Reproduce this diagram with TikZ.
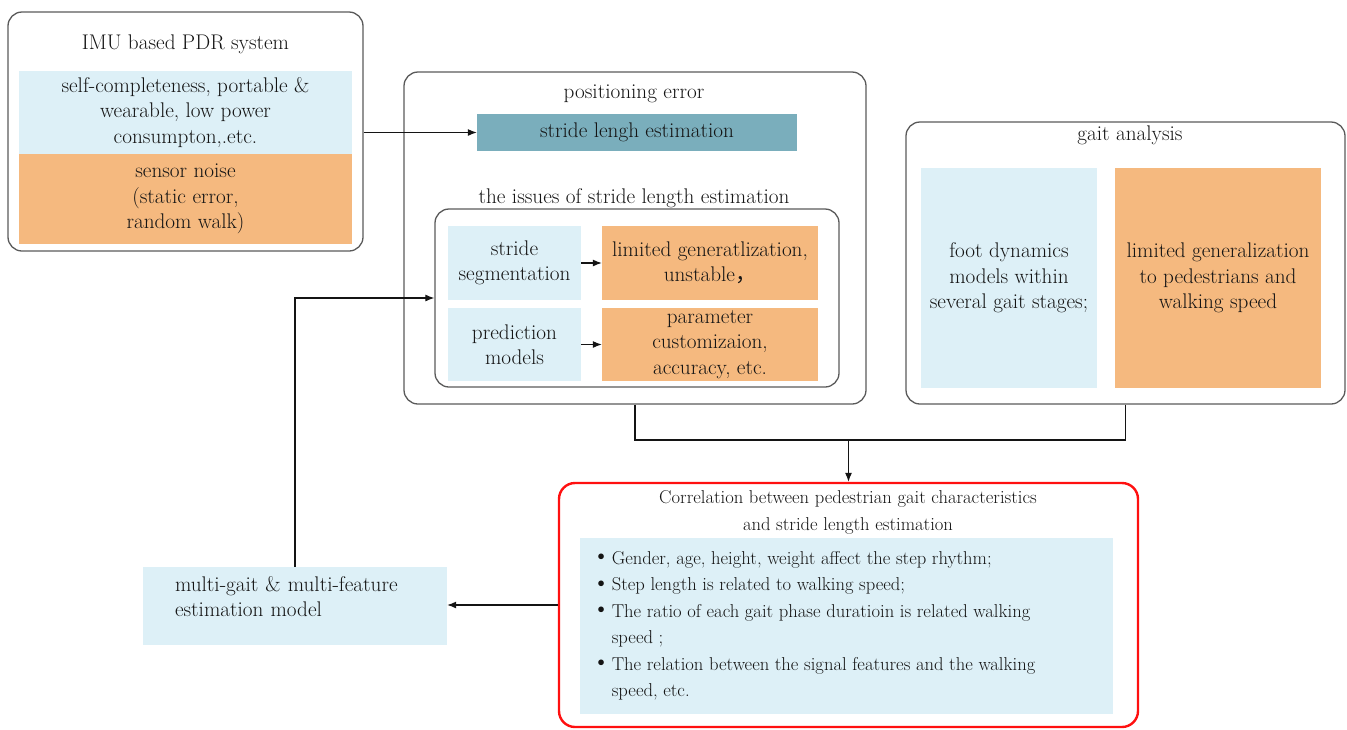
\documentclass[tikz,border=0pt]{standalone}
\usepackage{fontspec}
\newfontfamily\cjk{Noto Sans CJK SC}
\usetikzlibrary{arrows.meta}
\definecolor{lblue}{HTML}{DDF0F7}
\definecolor{lorange}{HTML}{F5B97F}
\definecolor{tealbox}{HTML}{7AAEBC}
\definecolor{frame}{HTML}{5A5A5A}
\definecolor{txt}{HTML}{141414}
\definecolor{redframe}{HTML}{FF1010}
\newcommand{\bigbul}{\raisebox{0.05ex}{\scalebox{1.35}{\textbullet}}\hspace{1.5pt}}
\tikzset{
  frm/.style={draw=frame, line width=1.3pt, rounded corners=14pt, inner sep=0pt},
  bx/.style={fill=lblue, inner sep=0pt, align=center},
  ox/.style={fill=lorange, inner sep=0pt, align=center},
  ttl/.style={inner sep=0pt, align=center},
  arr/.style={-{Latex[length=9pt,width=7pt]}, draw=txt, line width=1.1pt},
  ln/.style={draw=txt, line width=1.1pt},
}
\begin{document}
\begin{tikzpicture}[x=1pt,y=-1pt,font=\fontsize{21.2}{25.5}\selectfont,text=txt]
\useasboundingbox (0,0) rectangle (1347,729);
% frames
\node[frm, minimum width=355pt, minimum height=239pt] (imu) at (185.5,131.5) {};
\node[frm, minimum width=462pt, minimum height=332pt] (pos) at (635,238) {};
\node[frm, minimum width=404pt, minimum height=178pt] (iss) at (637,298) {};
\node[frm, minimum width=439pt, minimum height=282pt] (gait) at (1125.5,263) {};
\node[draw=redframe, line width=2.4pt, rounded corners=16pt, inner sep=0pt, minimum width=579pt, minimum height=244pt] (cor) at (848.5,605) {};
% box 1
\node[ttl] (t1) at (185.5,44) {IMU based PDR system};
\node[bx, minimum width=333pt, minimum height=83pt] (adv) at (185.5,112.5) {self-completeness, portable \&\\wearable, low power\\consumpton,.etc.};
\node[ox, minimum width=333pt, minimum height=90pt] (noise) at (185.5,199) {sensor noise\\(static error,\\random walk)};
% box 2
\node[ttl] (t2) at (634,94) {positioning error};
\node[fill=tealbox, inner sep=0pt, minimum width=320pt, minimum height=37pt] (sle) at (637,132.5) {stride lengh estimation};
\node[ttl] (t3) at (634,198) {the issues of stride length estimation};
\node[bx, minimum width=133pt, minimum height=74pt] (ss) at (514.5,263) {stride\\segmentation};
\node[ox, minimum width=216pt, minimum height=74pt] (lg) at (710,263) {limited generatlization,\\unstable{\cjk ，}};
\node[bx, minimum width=133pt, minimum height=73pt] (pm) at (514.5,344.5) {prediction\\models};
\node[ox, minimum width=216pt, minimum height=73pt] (pc) at (710,344.5) {parameter\\customizaion,\\accuracy, etc.};
% box 3
\node[ttl] (t4) at (1130,135) {gait analysis};
\node[bx, minimum width=176pt, minimum height=220pt] (fd) at (1009,278) {foot dynamics\\models within\\several gait stages;};
\node[ox, minimum width=206pt, minimum height=220pt] (lgp) at (1218,278) {limited generalization\\to pedestrians and\\walking speed};
% red box
\node[ttl, font=\fontsize{18.6}{27}\selectfont] (t5) at (848,512) {Correlation between pedestrian gait characteristics\\and stride length estimation};
\node[fill=lblue, inner sep=0pt, minimum width=533pt, minimum height=176pt] (blist) at (846.5,626) {};
\node[inner sep=0pt, align=left, anchor=north west, font=\fontsize{18.6}{26.5}\selectfont] (items) at (592,551) {%
\bigbul Gender, age, height, weight affect the step rhythm;\\
\bigbul Step length is related to walking speed;\\
\bigbul The ratio of each gait phase duratioin is related walking\\
\phantom{\bigbul}speed ;\\
\bigbul The relation between the signal features and the walking\\
\phantom{\bigbul}speed, etc.};
% multi-gait box
\node[fill=lblue, inner sep=0pt, inner xsep=32pt, text width=240pt, align=left, minimum height=78pt] (mg) at (295,606) {multi-gait \& multi-feature\\estimation model\\[-6pt]\mbox{}};
% connectors
\draw[arr] (imu.east |- sle.west) -- (sle.west);
\draw[arr] (ss.east) -- (lg.west);
\draw[arr] (pm.east) -- (pc.west);
\draw[arr] (mg.north) |- (iss.west);
\coordinate (j) at (848.5,440);
\draw[ln] (pos.south) |- (j);
\draw[ln] (gait.south) |- (j);
\draw[arr] (j) -- (cor.north);
\draw[arr] (cor.west) -- (cor.west -| mg.east);
\end{tikzpicture}
\end{document}
